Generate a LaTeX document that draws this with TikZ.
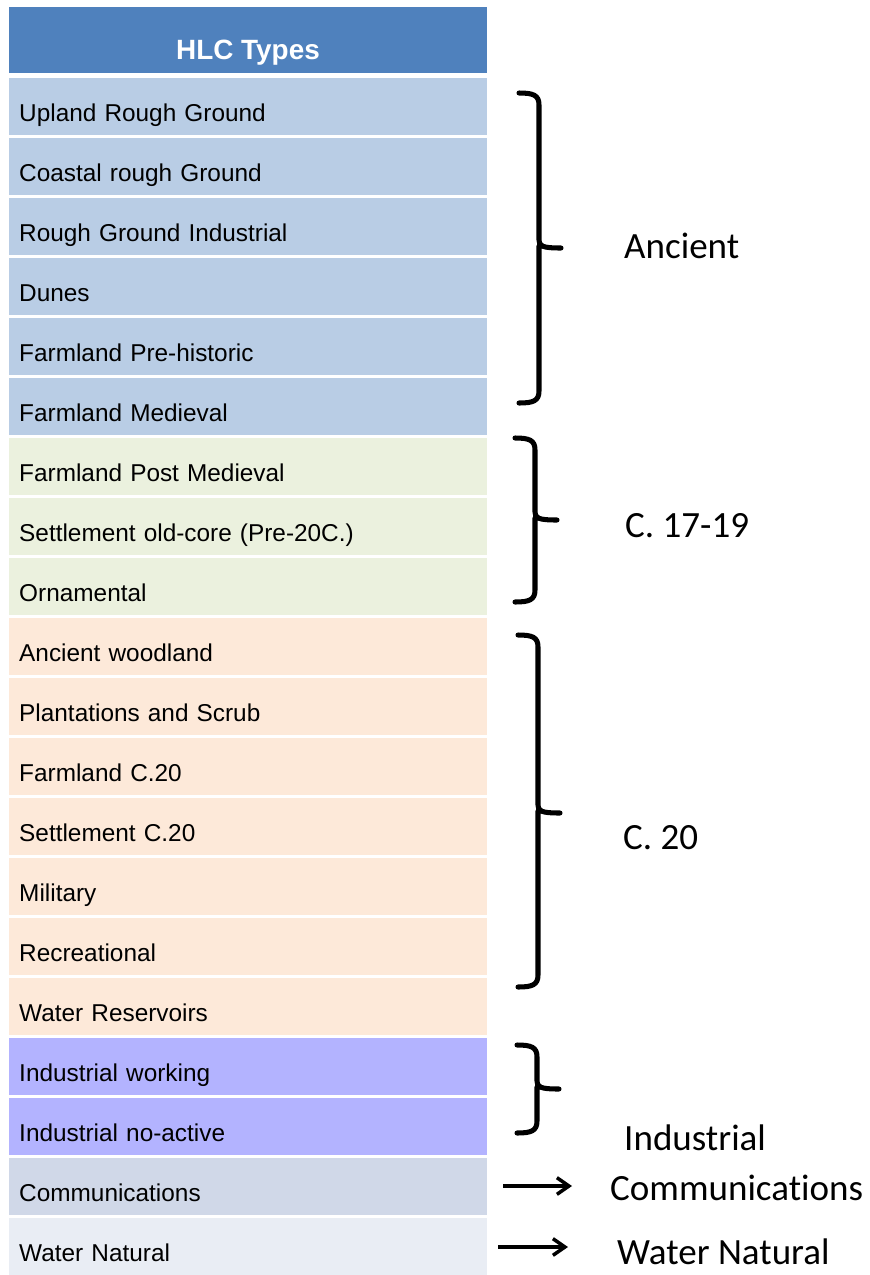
\documentclass[tikz,border=0pt]{standalone}
\usepackage{fontspec}
\setmainfont{Liberation Sans}
\newfontfamily\calib[Ligatures=NoCommon]{Carlito}
\usetikzlibrary{arrows.meta,calc}

\definecolor{hlchead}{HTML}{4F81BD}
\definecolor{hlcold}{HTML}{B9CDE5}
\definecolor{hlcearly}{HTML}{EBF1DE}
\definecolor{hlcmodern}{HTML}{FDE9D9}
\definecolor{hlcind}{HTML}{B3B3FF}
\definecolor{hlccomm}{HTML}{D0D8E8}
\definecolor{hlcwater}{HTML}{E9EDF4}

\tikzset{
  hlchdr/.style={fill=hlchead,text=white,inner sep=0pt,minimum width=14.34cm,
    minimum height=1.98cm,text height=1.14cm,text depth=0pt,
    font=\bfseries\fontsize{23.8}{28}\selectfont},
  hlcrow/.style={anchor=north west,inner ysep=0pt,inner xsep=0.3cm,
    minimum height=1.71cm,text width=13.74cm,align=left,
    text height=0.9cm,text depth=0pt,font=\fontsize{20.8}{24}\selectfont},
  periodlab/.style={anchor=base west,inner sep=0pt,
    font=\calib\fontsize{31.6}{36}\selectfont},
  bracestroke/.style={line width=4.3pt,line cap=round,line join=round},
  pointer/.style={line width=3pt,-{Straight Barb[length=0.36cm,width=0.5cm]}}
}

% spine x, top, tip, bottom (in px)
\newcommand\hlcbrace[4]{%
  \draw[bracestroke] (#1-20,#2) .. controls (#1-6,#2) and (#1,#2+2) .. (#1,#2+12)
    -- (#1,#3-8) .. controls (#1,#3-2) and (#1+3,#3) .. (#1+22,#3)
    (#1,#3-2) .. controls (#1,#3+2) .. (#1,#3+8)
    -- (#1,#4-12) .. controls (#1,#4-2) and (#1-6,#4) .. (#1-20,#4);}

\begin{document}
\begin{tikzpicture}[x=0.03cm,y=-0.03cm]

\useasboundingbox (0,0) rectangle (870,1275);

\node[hlchdr] (hdr) at (248,40) {HLC Types};

\foreach \lab/\col [count=\i] in {
  Upland Rough Ground/hlcold,
  Coastal rough Ground/hlcold,
  Rough Ground Industrial/hlcold,
  Dunes/hlcold,
  Farmland Pre-historic/hlcold,
  Farmland Medieval/hlcold,
  Farmland Post Medieval/hlcearly,
  Settlement old-core (Pre-20C.)/hlcearly,
  Ornamental/hlcearly,
  Ancient woodland/hlcmodern,
  Plantations and Scrub/hlcmodern,
  Farmland C.20/hlcmodern,
  Settlement C.20/hlcmodern,
  Military/hlcmodern,
  Recreational/hlcmodern,
  Water Reservoirs/hlcmodern,
  Industrial working/hlcind,
  Industrial no-active/hlcind,
  Communications/hlccomm,
  Water Natural/hlcwater}
  \node[hlcrow,fill=\col] (row\i) at (9,{78+60*(\i-1)}) {\lab};

% period brackets
\hlcbrace{539}{93}{248}{403}
\hlcbrace{535}{438}{520}{602}
\hlcbrace{538}{635}{813}{987}
\hlcbrace{537}{1045}{1089}{1133}

\node[periodlab] (lanc) at (624,258) {Ancient};
\node[periodlab] (learly) at (625,537) {C. 17-19};
\node[periodlab] (lmodern) at (623,849) {C. 20};
\node[periodlab] (lind) at (624,1150) {Industrial};
\node[periodlab] (lcomm) at (610,1200) {Communications};
\node[periodlab] (lwater) at (617,1264) {Water Natural};

\coordinate (ca) at (503,1186);
\coordinate (cb) at (498,1247);
\draw[pointer,shorten >=1.14cm] (ca) -- (ca -| lcomm.west);
\draw[pointer,shorten >=1.47cm] (cb) -- (cb -| lwater.west);

\end{tikzpicture}
\end{document}
